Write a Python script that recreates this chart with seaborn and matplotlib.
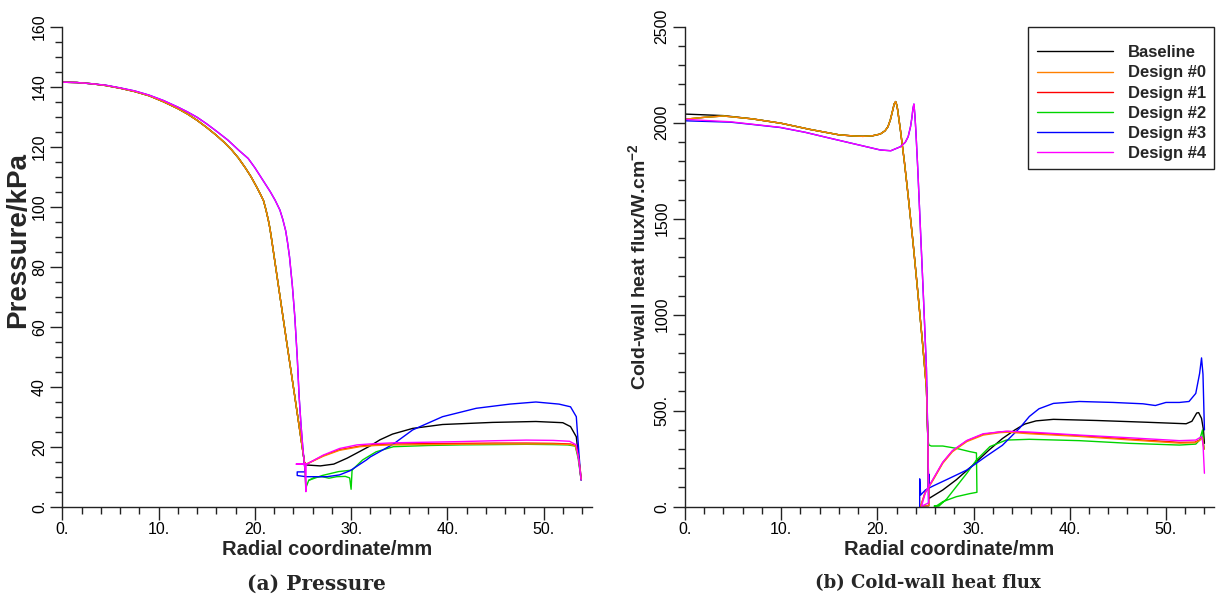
import matplotlib
matplotlib.use("Agg")
import matplotlib.pyplot as plt
import numpy as np
import pandas as pd
import seaborn as sns
from matplotlib.ticker import FixedLocator, FixedFormatter, MultipleLocator

sns.set_theme(style="ticks")
plt.rcParams["font.family"] = ["Liberation Sans", "DejaVu Sans"]
plt.rcParams["mathtext.fontset"] = "custom"
plt.rcParams["mathtext.rm"] = "Liberation Sans"
plt.rcParams["mathtext.bf"] = "Liberation Sans:bold"

# ---------------------------------------------------------------- series
series = ["Baseline", "Design #0", "Design #1", "Design #2", "Design #3", "Design #4"]
colors = ["#000000", "#ff8000", "#ff0000", "#00d400", "#0000ff", "#ff00ff"]
draw_order = ["Baseline", "Design #1", "Design #2", "Design #3", "Design #0", "Design #4"]

# ---------------------------------------------------------------- pressure (kPa)
# shared upstream branch of Baseline / #0 / #1 / #2
r_p_up_a = [0, 1.5, 3, 4.5, 6, 7.5, 9, 10.5, 12, 13, 14, 15, 16, 16.8, 17.6, 18.3, 19, 19.6,
            20.2, 20.6, 20.9, 21.15, 21.4, 21.55, 21.7, 22.5, 23.3, 24.15, 24.7, 25.15]
p_up_a = [141.5, 141.4, 141.0, 140.4, 139.5, 138.4, 137.0, 135.0, 132.7, 130.9, 128.8, 126.4,
          123.8, 121.5, 118.9, 116.2, 113.0, 110.0, 106.5, 104.0, 102.0, 99.0, 95.5, 93.0, 90.0,
          72.5, 55.0, 36.7, 24.7, 14.8]
# shared upstream branch of #3 / #4
r_p_up_b = [0, 1.5, 3, 4.5, 6, 7.5, 9, 10.5, 12, 13, 14, 15, 16, 17.2, 18.3, 19.3, 20.0, 20.5,
            21.0, 21.6, 22.1, 22.6, 22.9, 23.2, 23.4, 23.6, 23.9, 24.15, 24.4, 24.6, 24.8, 25.0,
            25.2]
p_up_b = [141.5, 141.4, 141.0, 140.5, 139.6, 138.6, 137.2, 135.4, 133.2, 131.6, 129.8, 127.6,
          125.2, 122.2, 118.9, 116.1, 113.0, 110.5, 108.0, 105.0, 102.2, 98.9, 95.8, 92.0, 88.0,
          83.3, 73.5, 63.3, 50.0, 36.7, 27.0, 19.0, 12.5]

r_p_base = [25.3, 25.4, 26.8, 28.2, 29.6, 30.6, 32.0, 33.0, 34.3, 36.4, 39.5, 44.7, 49.2, 52.0,
            52.8, 53.4, 53.7, 53.9]
p_base = [14.0, 13.9, 13.6, 14.2, 16.2, 17.9, 20.3, 22.3, 24.2, 26.1, 27.4, 28.1, 28.4, 28.0,
          26.7, 23.3, 14.5, 8.9]

r_p_d0 = [25.3, 25.5, 27.1, 28.8, 30.9, 32.5, 34.4, 38.0, 41.3, 45.0, 48.2, 51.0, 52.8, 53.3,
          53.6, 53.8, 53.9]
p_d0 = [14.3, 14.4, 16.8, 18.8, 20.0, 20.4, 20.6, 20.7, 20.8, 20.9, 20.9, 20.9, 20.7, 20.2,
        17.0, 12.5, 9.2]
p_d1 = [14.3, 14.4, 17.0, 19.0, 20.2, 20.7, 20.9, 21.0, 21.1, 21.2, 21.2, 21.1, 20.9, 20.4,
        17.0, 12.5, 9.2]

r_p_d2 = [25.3, 25.6, 26.2, 27.0, 27.7, 28.5, 29.4, 29.85, 30.0, 30.1, 31.2, 32.6, 34.4, 38.0,
          41.3, 45.0, 48.2, 51.0, 52.5, 53.3, 53.6, 53.9]
p_d2 = [6.3, 8.8, 9.8, 10.0, 9.5, 10.0, 10.1, 9.6, 5.8, 12.2, 15.6, 18.3, 20.0, 20.4, 20.6,
        20.7, 20.8, 20.7, 20.6, 20.2, 16.0, 9.0]
r_p_d2_loop = [25.6, 27.0, 28.7, 30.1]
p_d2_loop = [8.8, 10.4, 11.7, 12.2]

r_p_d3 = [25.22, 24.4, 24.4, 25.3, 27.5, 28.8, 29.9, 31.6, 32.0, 34.4, 36.4, 39.5, 43.0, 46.5,
          49.2, 51.6, 52.8, 53.4, 53.7, 53.9]
p_d3 = [11.6, 11.6, 10.4, 10.0, 10.0, 10.6, 12.0, 15.6, 16.6, 20.9, 25.6, 30.0, 32.8, 34.2,
        34.9, 34.2, 33.3, 30.0, 16.6, 8.9]

r_p_d4 = [25.3, 25.32, 24.3, 25.4, 27.1, 28.8, 30.6, 31.9, 34.4, 38.0, 41.3, 45.0, 48.2, 51.0,
          52.7, 53.4, 53.7, 53.9]
p_d4 = [5.0, 14.2, 14.2, 14.2, 17.2, 19.4, 20.6, 20.9, 21.3, 21.5, 21.7, 22.0, 22.2, 22.1,
        21.8, 20.6, 14.5, 8.9]

# ---------------------------------------------------------------- cold-wall heat flux (W/cm^2)
r_q_up_a = [0, 2, 4, 7, 10, 13, 16, 17.5, 18.5, 19.5, 20.3, 20.8, 21.1, 21.35, 21.6, 21.75, 21.9,
            22.0, 22.1, 22.4, 22.8, 23.2, 23.7, 24.2, 24.7, 25.1, 25.25]
q_up_base = [2045, 2041, 2037, 2020, 1997, 1965, 1937, 1931, 1929, 1932, 1941, 1958, 1979, 2015,
             2066, 2098, 2110, 2095, 2070, 1960, 1800, 1620, 1380, 1120, 850, 620, 350]
q_up_a = [2018, 2028, 2035, 2020, 1997, 1965, 1937, 1931, 1929, 1932, 1941, 1958, 1979, 2015,
          2066, 2098, 2110, 2095, 2070, 1960, 1800, 1620, 1380, 1120, 850, 620, 350]
r_q_up_b = [0, 2, 4.7, 7, 9.9, 12.5, 15.1, 18, 20.3, 21.4, 22.4, 22.9, 23.2, 23.45, 23.6, 23.7,
            23.8, 23.9, 24.0, 24.2, 24.5, 24.8, 25.1, 25.25]
q_up_d3 = [2010, 2007, 2003, 1991, 1975, 1950, 1919, 1885, 1858, 1854, 1875, 1898, 1927, 1980,
           2030, 2075, 2097, 2040, 1960, 1760, 1420, 1080, 720, 350]
q_up_d4 = [2018, 2012, 2005, 1992, 1976, 1950, 1919, 1885, 1858, 1854, 1875, 1898, 1927, 1980,
           2030, 2075, 2097, 2040, 1960, 1760, 1420, 1080, 720, 350]

r_q_base = [25.35, 25.4, 26.8, 28.2, 29.9, 31.6, 33.0, 34.3, 35.3, 36.5, 38.3, 42.8, 47.9, 52.1,
            52.7, 53.2, 53.4, 53.7, 53.9, 54.0]
q_base = [40, 44, 87, 140, 215, 295, 355, 400, 430, 447, 455, 449, 440, 432, 445, 488, 490, 460,
          400, 330]

r_q_d0 = [25.35, 24.5, 24.95, 25.8, 26.8, 27.8, 29.3, 31.0, 32.8, 33.6, 35.8, 41.0, 46.2, 51.4,
          53.0, 53.5, 53.8, 53.95]
q_d0 = [5, 3, 70, 139, 226, 286, 339, 373, 386, 388, 380, 366, 348, 331, 333, 345, 360, 300]
q_d1 = [5, 3, 72, 142, 230, 290, 343, 377, 390, 392, 384, 370, 352, 335, 336, 348, 362, 300]

r_q_d2 = [25.35, 25.6, 26.8, 28.2, 29.6, 30.3, 30.35, 29.6, 28.2, 26.8, 26.2, 25.9, 26.4,
          27.2, 28.2, 29.3, 30.3, 31.7, 33.4, 35.8, 41.0, 46.2, 51.4, 53.1, 53.5, 53.8, 53.95]
q_d2 = [322, 316, 316, 304, 287, 280, 75, 68, 52, 26, 6, 3, 3, 40, 104, 174, 243, 313, 347,
        351, 344, 330, 321, 326, 347, 400, 300]

r_q_d3 = [25.32, 24.4, 24.4, 24.5, 25.0, 25.3, 25.35, 25.4, 25.8, 27.5, 29.3, 31.3, 33.0, 34.0,
          34.8, 35.8, 36.8, 38.3, 41.0, 44.5, 47.6, 48.9, 50.0, 51.4, 52.4, 53.1, 53.5, 53.7,
          53.85, 54.0]
q_d3 = [5, 0, 145, 61, 87, 95, 170, 98, 108, 148, 191, 262, 320, 370, 410, 470, 510, 538, 548,
        543, 536, 527, 543, 543, 548, 590, 694, 775, 690, 400]

r_q_d4 = [25.33, 24.6, 25.0, 25.8, 26.8, 27.8, 29.3, 31.0, 33.4, 35.8, 41.0, 46.2, 51.4, 53.1,
          53.7, 53.85, 54.0]
q_d4 = [20, 3, 75, 145, 232, 292, 345, 380, 393, 389, 373, 359, 344, 347, 365, 330, 174]

# ---------------------------------------------------------------- ticks
x_ticks = [0, 10, 20, 30, 40, 50]
x_tick_labels = ["0.", "10.", "20.", "30.", "40.", "50."]
p_ticks = [0, 20, 40, 60, 80, 100, 120, 140, 160]
p_tick_labels = ["0.", "20", "40", "60", "80", "100", "120", "140", "160"]
q_ticks = [0, 500, 1000, 1500, 2000, 2500]
q_tick_labels = ["0.", "500.", "1000", "1500", "2000", "2500"]


def frame(paths):
    """Long table: one row per vertex, path order kept through 'seg'."""
    rows = []
    for name, segs in paths.items():
        for k, (rr, vv) in enumerate(segs):
            for r, v in zip(rr, vv):
                rows.append((r, v, name, f"{name}-{k}"))
    return pd.DataFrame(rows, columns=["r", "v", "series", "seg"])


pressure_paths = {
    "Baseline": [(r_p_up_a + r_p_base, p_up_a + p_base)],
    "Design #0": [(r_p_up_a + r_p_d0, p_up_a + p_d0)],
    "Design #1": [(r_p_up_a + r_p_d0, p_up_a + p_d1)],
    "Design #2": [(r_p_up_a + r_p_d2, p_up_a + p_d2), (r_p_d2_loop, p_d2_loop)],
    "Design #3": [(r_p_up_b + r_p_d3, p_up_b + p_d3)],
    "Design #4": [(r_p_up_b + r_p_d4, p_up_b + p_d4)],
}
flux_paths = {
    "Baseline": [(r_q_up_a + r_q_base, q_up_base + q_base)],
    "Design #0": [(r_q_up_a + r_q_d0, q_up_a + q_d0)],
    "Design #1": [(r_q_up_a + r_q_d0, q_up_a + q_d1)],
    "Design #2": [(r_q_up_a + r_q_d2, q_up_a + q_d2)],
    "Design #3": [(r_q_up_b + r_q_d3, q_up_d3 + q_d3)],
    "Design #4": [(r_q_up_b + r_q_d4, q_up_d4 + q_d4)],
}

palette = dict(zip(series, colors))

fig = plt.figure(figsize=(12.21, 5.99), dpi=100)
ax_p = fig.add_axes([0.0511, 0.1541, 0.4335, 0.8013])
ax_q = fig.add_axes([0.5610, 0.1541, 0.4333, 0.8013])

for ax, paths, show_legend in ((ax_p, pressure_paths, False), (ax_q, flux_paths, True)):
    sns.lineplot(data=frame(paths), x="r", y="v", hue="series", units="seg",
                 estimator=None, sort=False, hue_order=draw_order, palette=palette,
                 linewidth=1.0, legend=show_legend, ax=ax)


def style_axes(ax, yticks, ylabels, ymax, yminor, ylabel, ylabel_size):
    ax.set_xlim(0, 55)
    ax.set_ylim(0, ymax)
    sns.despine(ax=ax)
    for side in ("left", "bottom"):
        ax.spines[side].set_color("#222222")
        ax.spines[side].set_linewidth(1.0)
    ax.xaxis.set_major_locator(FixedLocator(x_ticks))
    ax.xaxis.set_major_formatter(FixedFormatter(x_tick_labels))
    ax.xaxis.set_minor_locator(MultipleLocator(2))
    ax.yaxis.set_major_locator(FixedLocator(yticks))
    ax.yaxis.set_major_formatter(FixedFormatter(ylabels))
    ax.yaxis.set_minor_locator(MultipleLocator(yminor))
    ax.tick_params(which="major", length=9, width=1.0, color="#222222",
                   labelsize=11.5, labelcolor="black", pad=2, direction="out")
    ax.tick_params(which="minor", length=5, width=1.0, color="#222222", direction="out")
    ax.tick_params(axis="y", labelrotation=90)
    plt.setp(ax.get_yticklabels(), va="center")
    ax.set_xlabel("Radial coordinate/mm", fontsize=14.5, fontweight="bold", labelpad=2)
    ax.set_ylabel(ylabel, fontsize=ylabel_size, fontweight="bold", labelpad=3)
    ax.grid(False)


style_axes(ax_p, p_ticks, p_tick_labels, 160, 5, "Pressure/kPa", 20)
style_axes(ax_q, q_ticks, q_tick_labels, 2500, 100,
           r"Cold-wall heat flux/W.cm$^{\mathbf{-2}}$", 14)
ax_p.yaxis.set_label_coords(-0.060, 0.556)

handles, labels = ax_q.get_legend_handles_labels()
lookup = dict(zip(labels, handles))
leg = ax_q.legend([lookup[s] for s in series], series, loc="upper right",
                  bbox_to_anchor=(1.0, 1.0), borderaxespad=0.0, frameon=True,
                  fancybox=False, framealpha=1.0, edgecolor="#222222",
                  prop={"weight": "bold", "size": 12}, handlelength=4.6,
                  handletextpad=0.85, labelspacing=0.31, borderpad=0.5,
                  title=" ", title_fontsize=3.5)
leg.get_frame().set_linewidth(1.0)

subtitles = [(0.259, "(a) Pressure", 14.5), (0.760, "(b) Cold-wall heat flux", 13)]
for xc, title, size in subtitles:
    fig.text(xc, 0.026, title, ha="center", va="center",
             family="DejaVu Serif", fontweight="bold", fontsize=size)

fig.savefig("out.png", dpi=100)
